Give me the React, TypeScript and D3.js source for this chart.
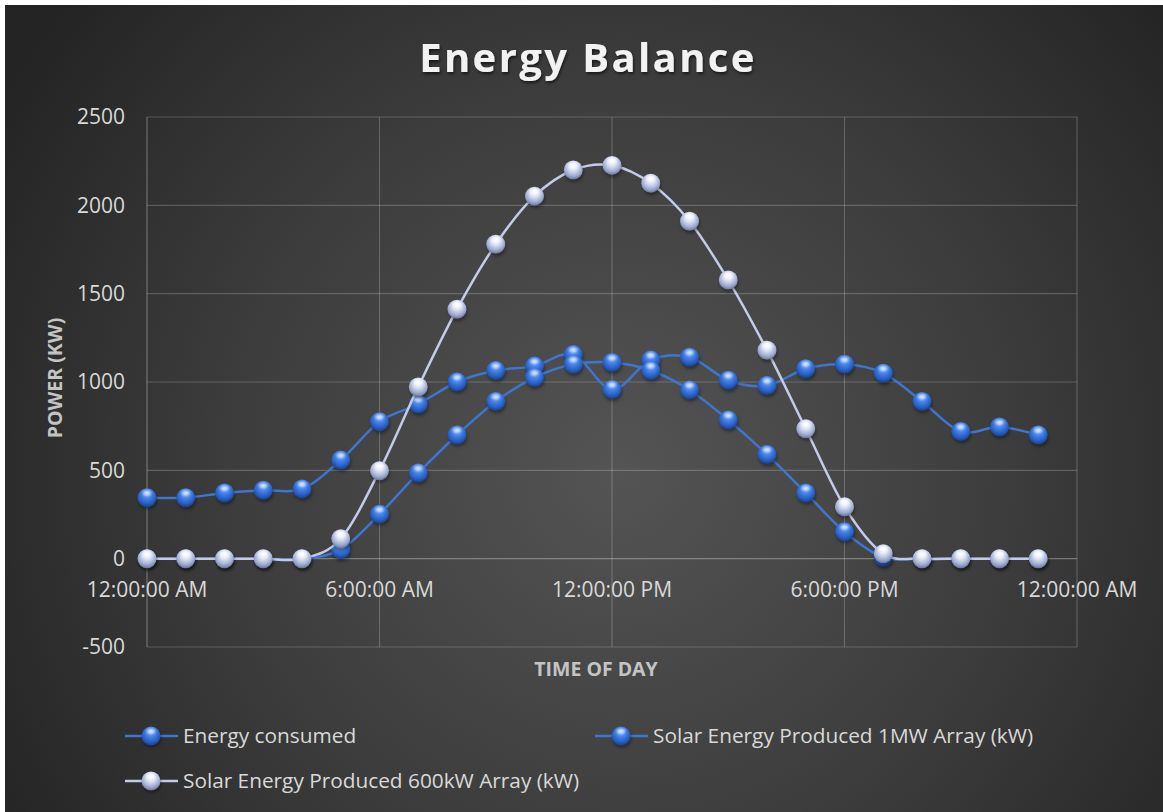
import React from "react";
import * as d3 from "d3";

const hours = d3.range(0, 24);
const energyConsumed = [345, 345, 372, 387, 395, 558, 775, 875, 1000, 1065, 1090, 1155, 958, 1125, 1140, 1010, 980, 1075, 1100, 1050, 890, 720, 745, 700];
const solar1MW = [0, 0, 0, 0, 0, 52, 252, 485, 700, 890, 1025, 1100, 1110, 1065, 955, 785, 590, 372, 152, 8, 0, 0, 0, 0];
const solar600kW = [0, 0, 0, 0, 0, 113, 498, 972, 1412, 1780, 2052, 2200, 2226, 2125, 1910, 1577, 1180, 735, 294, 28, 0, 0, 0, 0];
const yTicks = [-500, 0, 500, 1000, 1500, 2000, 2500];
const xTicks = [0, 6, 12, 18, 24];
const xTickLabels = ["12:00:00 AM", "6:00:00 AM", "12:00:00 PM", "6:00:00 PM", "12:00:00 AM"];
const seriesNames = ["Energy consumed", "Solar Energy Produced 1MW Array (kW)", "Solar Energy Produced 600kW Array (kW)"];

const W = 1163;
const H = 812;
const FONT = "'Open Sans', 'Noto Sans', sans-serif";

export default function App() {
  const x = d3.scaleLinear().domain([0, 24]).range([147, 1077]);
  const y = d3.scaleLinear().domain([-500, 2500]).range([647, 117]);

  const line = d3
    .line<number>()
    .x((_, i) => x(hours[i]))
    .y((d) => y(d))
    .curve(d3.curveCatmullRom.alpha(0));

  const series = [
    { name: seriesNames[0], values: energyConsumed, stroke: "#3f74cf", grad: "url(#blueBall)" },
    { name: seriesNames[1], values: solar1MW, stroke: "#3f74cf", grad: "url(#blueBall)" },
    { name: seriesNames[2], values: solar600kW, stroke: "#c3cbe8", grad: "url(#whiteBall)" },
  ];

  const R = 9.5;

  const marker = (cx: number, cy: number, grad: string, key: string) => (
    <g key={key}>
      <circle cx={cx + 1} cy={cy + 2.5} r={R} fill="#000" opacity={0.35} filter="url(#shadowBlur)" />
      <circle cx={cx} cy={cy} r={R} fill={grad} />
      <ellipse
        cx={cx}
        cy={cy - R * 0.5}
        rx={R * 0.45}
        ry={R * 0.28}
        fill="#fff"
        opacity={0.55}
        filter="url(#hiBlur)"
      />
    </g>
  );

  const legendItems = [
    { x: 125, y: 736, s: series[0] },
    { x: 595, y: 736, s: series[1] },
    { x: 125, y: 781, s: series[2] },
  ];

  return (
    <svg
      width={W}
      height={H}
      style={{ position: "absolute", left: 0, top: 0, display: "block" }}
      fontFamily={FONT}
    >
      <defs>
        <radialGradient id="bg" gradientUnits="userSpaceOnUse" cx={620} cy={470} r={720}>
          <stop offset="0" stopColor="#545454" />
          <stop offset="0.55" stopColor="#3c3c3c" />
          <stop offset="1" stopColor="#242424" />
        </radialGradient>
        <radialGradient id="blueBall" cx="0.5" cy="0.38" r="0.62" fx="0.5" fy="0.25">
          <stop offset="0" stopColor="#9ec4ff" />
          <stop offset="0.3" stopColor="#4f8cf0" />
          <stop offset="0.75" stopColor="#285fc4" />
          <stop offset="1" stopColor="#1a3f86" />
        </radialGradient>
        <radialGradient id="whiteBall" cx="0.5" cy="0.38" r="0.62" fx="0.5" fy="0.25">
          <stop offset="0" stopColor="#ffffff" />
          <stop offset="0.35" stopColor="#e1e6f6" />
          <stop offset="0.78" stopColor="#9ba7ce" />
          <stop offset="1" stopColor="#6a7499" />
        </radialGradient>
        <filter id="shadowBlur" x="-50%" y="-50%" width="200%" height="200%">
          <feGaussianBlur stdDeviation="1.6" />
        </filter>
        <filter id="hiBlur" x="-50%" y="-50%" width="200%" height="200%">
          <feGaussianBlur stdDeviation="0.9" />
        </filter>
        <filter id="titleShadow" x="-10%" y="-30%" width="120%" height="160%">
          <feDropShadow dx="1" dy="2" stdDeviation="1.5" floodColor="#000" floodOpacity="0.6" />
        </filter>
      </defs>

      <rect x={0} y={0} width={W} height={H} fill="#ffffff" />
      <rect x={5} y={5} width={W - 5} height={H - 5} fill="url(#bg)" />

      <text
        x={588}
        y={72}
        textAnchor="middle"
        fontSize={40}
        fontWeight={700}
        letterSpacing={2.4}
        fill="#f2f2f2"
        filter="url(#titleShadow)"
      >
        Energy Balance
      </text>

      {/* gridlines */}
      {yTicks.map((t) => (
        <line
          key={"gy" + t}
          x1={x(0)}
          x2={x(24)}
          y1={y(t)}
          y2={y(t)}
          stroke={t === 0 ? "rgba(255,255,255,0.32)" : "rgba(255,255,255,0.2)"}
          strokeWidth={1.2}
        />
      ))}
      {xTicks.map((t) => (
        <line
          key={"gx" + t}
          x1={x(t)}
          x2={x(t)}
          y1={y(2500)}
          y2={y(-500)}
          stroke={t === 0 ? "rgba(255,255,255,0.3)" : "rgba(255,255,255,0.2)"}
          strokeWidth={1.2}
        />
      ))}

      {/* y tick labels */}
      {yTicks.map((t) => (
        <text
          key={"ty" + t}
          x={125}
          y={y(t)}
          dy="0.35em"
          textAnchor="end"
          fontSize={21}
          fill="#d9d9d9"
        >
          {t}
        </text>
      ))}
      {/* x tick labels */}
      {xTicks.map((t, i) => (
        <text
          key={"tx" + t}
          x={x(t)}
          y={y(0) + 38}
          textAnchor="middle"
          fontSize={21}
          fill="#d9d9d9"
        >
          {xTickLabels[i]}
        </text>
      ))}

      {/* axis titles */}
      <text x={596} y={676} textAnchor="middle" fontSize={19.5} fontWeight={700} fill="#c4c4c4">
        TIME OF DAY
      </text>
      <text
        transform={`translate(62,378) rotate(-90)`}
        textAnchor="middle"
        fontSize={19.5}
        fontWeight={700}
        fill="#c4c4c4"
      >
        POWER (KW)
      </text>

      {/* series lines */}
      {series.map((s, si) => (
        <g key={"s" + si}>
          <path d={line(s.values) || ""} fill="none" stroke={s.stroke} strokeWidth={2.5} />
          {s.values.map((v, i) => marker(x(hours[i]), y(v), s.grad, `m${si}-${i}`))}
        </g>
      ))}

      {/* legend */}
      {legendItems.map((it, i) => (
        <g key={"lg" + i}>
          <line x1={it.x} x2={it.x + 53} y1={it.y} y2={it.y} stroke={it.s.stroke} strokeWidth={2.5} />
          {marker(it.x + 26, it.y, it.s.grad, "lm" + i)}
          <text x={it.x + 58} y={it.y} dy="0.35em" fontSize={20.8} fill="#d9d9d9">
            {it.s.name}
          </text>
        </g>
      ))}
    </svg>
  );
}
